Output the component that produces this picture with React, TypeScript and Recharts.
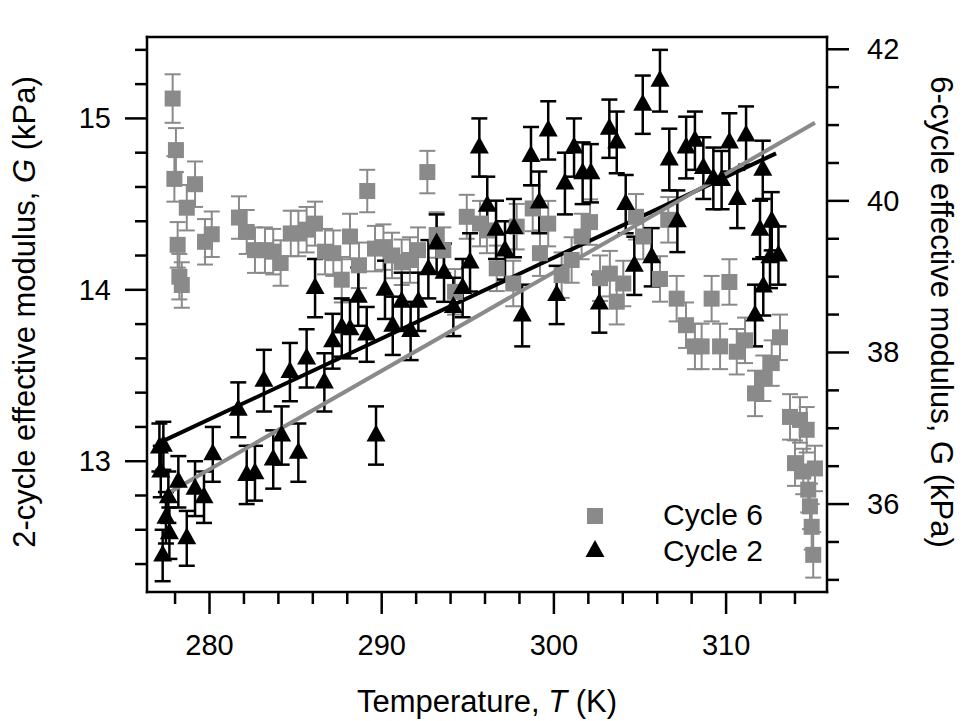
import React from "react";
import { ComposedChart, Scatter, Line, XAxis, YAxis, ErrorBar } from "recharts";

// Cycle 2 (left axis, black triangles)
const cycle2T = [
  277.09, 277.17, 277.28, 277.32, 277.47, 277.61, 277.67, 278.19, 278.68, 279.16,
  279.68, 280.19, 281.67, 282.16, 282.64, 283.16, 283.7, 284.19, 284.67, 285.16,
  285.64, 286.13, 286.67, 287.15, 287.68, 288.16, 288.64, 289.13, 289.67, 290.19,
  290.64, 291.16, 291.68, 292.13, 292.71, 293.19, 293.62, 294.16, 294.7, 295.13,
  295.67, 296.13, 296.64, 297.16, 297.68, 298.16, 298.67, 299.15, 299.67, 300.16,
  300.64, 301.17, 301.67, 302.15, 302.64, 303.22, 303.65, 304.17, 304.67, 305.16,
  305.68, 306.16, 306.7, 307.17, 307.68, 308.19, 308.68, 309.26, 309.74, 310.19,
  310.65, 311.16, 311.68, 311.97, 312.13, 312.16, 312.55, 312.65, 313.04,
];
const cycle2G = [
  13.08, 12.94, 12.45, 13.09, 12.67, 12.79, 12.58, 12.88, 12.55, 12.84,
  12.79, 13.04, 13.3, 12.92, 12.93, 13.47, 13.01, 13.15, 13.52, 13.05,
  13.6, 14.01, 13.46, 13.7, 13.78, 13.77, 13.96, 13.74, 13.15, 14.0,
  13.79, 13.93, 13.76, 13.93, 14.12, 14.27, 14.1, 13.9, 14.01, 14.16,
  14.83, 14.49, 14.35, 14.23, 14.36, 13.85, 14.78, 14.51, 14.93, 13.97,
  14.62, 14.83, 14.68, 14.68, 13.92, 14.94, 14.86, 14.5, 14.14, 15.08,
  14.19, 15.22, 14.76, 14.4, 14.83, 14.87, 14.71, 14.65, 14.64, 14.86,
  14.53, 14.9, 13.85, 14.35, 14.7, 14.02, 14.19, 14.4, 14.2,
];
const cycle2Err = [
  0.14, 0.15, 0.15, 0.14, 0.15, 0.15, 0.15, 0.15, 0.16, 0.16,
  0.15, 0.16, 0.16, 0.17, 0.16, 0.18, 0.17, 0.17, 0.17, 0.17,
  0.17, 0.17, 0.17, 0.16, 0.17, 0.17, 0.17, 0.16, 0.17, 0.17,
  0.17, 0.17, 0.17, 0.17, 0.17, 0.17, 0.17, 0.17, 0.17, 0.17,
  0.17, 0.17, 0.17, 0.17, 0.17, 0.18, 0.17, 0.18, 0.17, 0.17,
  0.18, 0.17, 0.18, 0.17, 0.17, 0.17, 0.18, 0.17, 0.17, 0.17,
  0.17, 0.18, 0.18, 0.18, 0.18, 0.17, 0.18, 0.18, 0.17, 0.17,
  0.17, 0.17, 0.18, 0.17, 0.17, 0.17, 0.18, 0.17, 0.17,
];

// Cycle 6 (right axis, gray squares)
const cycle6T = [
  277.86, 277.96, 278.05, 278.15, 278.25, 278.39, 278.68, 279.16, 279.74, 280.13,
  281.71, 282.16, 282.64, 283.22, 283.7, 284.13, 284.72, 285.16, 285.64, 286.13,
  286.71, 287.19, 287.68, 288.16, 288.68, 289.16, 289.61, 290.1, 290.6, 291.16,
  291.64, 292.11, 292.65, 293.19, 293.58, 294.26, 294.94, 295.71, 296.11, 296.68,
  297.64, 297.84, 298.77, 299.19, 299.67, 300.45, 301.03, 301.61, 302.1, 302.68,
  303.25, 303.65, 304.03, 304.77, 305.19, 306.16, 306.64, 307.13, 307.67, 308.19,
  308.58, 309.16, 309.65, 310.19, 310.62, 311.1, 311.68, 312.16, 312.65, 313.13,
  313.71, 314.0, 314.29, 314.48, 314.68, 314.77, 314.87, 314.97, 315.06, 315.16,
];
const cycle6G = [
  41.35, 40.29, 40.67, 39.42, 39.0, 38.89, 39.91, 40.22, 39.46, 39.56,
  39.78, 39.59, 39.35, 39.35, 39.33, 39.18, 39.57, 39.57, 39.62, 39.7,
  39.33, 39.31, 38.96, 39.53, 39.15, 40.13, 39.37, 39.39, 39.28, 39.19,
  39.22, 39.35, 40.38, 39.55, 39.35, 38.8, 39.79, 39.7, 39.61, 39.11,
  38.91, 39.66, 39.9, 39.31, 39.7, 39.02, 39.22, 39.53, 39.72, 38.98,
  39.04, 38.67, 38.91, 39.79, 39.53, 38.97, 39.75, 38.71, 38.36, 38.08,
  38.08, 38.71, 38.08, 38.93, 38.01, 38.16, 37.46, 37.66, 37.86, 38.2,
  37.15, 36.54, 37.11, 36.43, 36.98, 36.19, 35.97, 35.7, 35.33, 36.47,
];
const cycle6Err = [
  0.32, 0.3, 0.29, 0.3, 0.3, 0.3, 0.3, 0.3, 0.3, 0.3,
  0.28, 0.29, 0.3, 0.3, 0.3, 0.3, 0.3, 0.3, 0.3, 0.29,
  0.3, 0.3, 0.3, 0.3, 0.3, 0.28, 0.3, 0.3, 0.3, 0.3,
  0.3, 0.3, 0.28, 0.3, 0.3, 0.3, 0.29, 0.3, 0.3, 0.3,
  0.3, 0.3, 0.3, 0.3, 0.3, 0.3, 0.3, 0.3, 0.3, 0.3,
  0.3, 0.3, 0.3, 0.3, 0.3, 0.3, 0.3, 0.3, 0.3, 0.3,
  0.3, 0.3, 0.3, 0.3, 0.3, 0.3, 0.3, 0.3, 0.3, 0.3,
  0.3, 0.3, 0.3, 0.3, 0.3, 0.3, 0.3, 0.3, 0.3, 0.3,
];

// linear fits
const fit2T = [277.22, 312.9];
const fit2G = [13.114, 14.796];
const fit6T = [277.71, 315.16];
const fit6G = [36.16, 41.03];

const xTicks = [278, 280, 282, 284, 286, 288, 290, 292, 294, 296, 298, 300, 302, 304, 306, 308, 310, 312, 314];
const leftTicks = [12.4, 12.6, 12.8, 13, 13.2, 13.4, 13.6, 13.8, 14, 14.2, 14.4, 14.6, 14.8, 15, 15.2, 15.4];
const rightTicks = [35, 35.5, 36, 36.5, 37, 37.5, 38, 38.5, 39, 39.5, 40, 40.5, 41, 41.5, 42];

const FONT = "'Liberation Sans', Arial, sans-serif";
const GRAY = "#8a8a8a";
const MAJOR = 22;
const MINOR = 12;

const cycle2 = cycle2T.map((t, i) => ({ t, g: cycle2G[i], e: cycle2Err[i] }));
const cycle6 = cycle6T.map((t, i) => ({ t, g: cycle6G[i], e: cycle6Err[i] }));
const fit2 = fit2T.map((t, i) => ({ t, g: fit2G[i] }));
const fit6 = fit6T.map((t, i) => ({ t, g: fit6G[i] }));

const isInt = (v: number) => Math.abs(v - Math.round(v)) < 1e-6;

const BottomTick = ({ x, y, payload }: any) => {
  const major = payload.value % 10 === 0;
  return (
    <g>
      <line x1={x} y1={y} x2={x} y2={y + (major ? MAJOR : MINOR)} stroke="#000" strokeWidth={2.5} />
      {major && (
        <text x={x} y={y + 63} textAnchor="middle" fontSize={29} fontFamily={FONT} fill="#000">
          {payload.value}
        </text>
      )}
    </g>
  );
};

const TopTick = ({ x, y, payload }: any) => {
  const major = payload.value % 10 === 0;
  return <line x1={x} y1={y} x2={x} y2={y - (major ? MAJOR : MINOR)} stroke="#000" strokeWidth={2.5} />;
};

const LeftTick = ({ x, y, payload }: any) => {
  const major = isInt(payload.value);
  return (
    <g>
      <line x1={x - (major ? MAJOR : MINOR)} y1={y} x2={x} y2={y} stroke="#000" strokeWidth={2.5} />
      {major && (
        <text x={x - 36} y={y + 10} textAnchor="end" fontSize={29} fontFamily={FONT} fill="#000">
          {payload.value}
        </text>
      )}
    </g>
  );
};

const RightTick = ({ x, y, payload }: any) => {
  const major = isInt(payload.value) && Math.round(payload.value) % 2 === 0;
  return (
    <g>
      <line x1={x} y1={y} x2={x + (major ? MAJOR : MINOR)} y2={y} stroke="#000" strokeWidth={2.5} />
      {major && (
        <text x={x + 40} y={y + 10} textAnchor="start" fontSize={29} fontFamily={FONT} fill="#000">
          {payload.value}
        </text>
      )}
    </g>
  );
};

const Square = ({ cx, cy }: any) => <rect x={cx - 8} y={cy - 8} width={16} height={16} fill={GRAY} />;
const Triangle = ({ cx, cy }: any) => (
  <polygon points={`${cx},${cy - 11} ${cx - 9.5},${cy + 6} ${cx + 9.5},${cy + 6}`} fill="#000" />
);

const axisLine = { stroke: "#000", strokeWidth: 2.5, strokeLinecap: "square" as const };

export default function App() {
  return (
    <div style={{ position: "absolute", left: 0, top: 0, width: 963, height: 721, background: "#fff" }}>
      <ComposedChart width={963} height={721} margin={{ top: 0, right: 0, bottom: 0, left: 0 }}>
        <XAxis
          xAxisId="b" dataKey="t" type="number" domain={[276.37, 315.86]} allowDataOverflow
          ticks={xTicks} interval={0} tick={BottomTick} tickLine={false} tickSize={0} tickMargin={0}
          axisLine={axisLine} height={129}
          label={() => (
            <text x={487} y={712} textAnchor="middle" fontSize={31} fontFamily={FONT} fill="#000">
              Temperature, <tspan fontStyle="italic">T</tspan> (K)
            </text>
          )}
        />
        <XAxis
          xAxisId="top" orientation="top" type="number" domain={[276.37, 315.86]} allowDataOverflow
          ticks={xTicks} interval={0} tick={TopTick} tickLine={false} tickSize={0} tickMargin={0}
          axisLine={axisLine} height={37}
        />
        <YAxis
          yAxisId="L" dataKey="g" type="number" domain={[12.237, 15.475]} allowDataOverflow
          ticks={leftTicks} interval={0} tick={LeftTick} tickLine={false} tickSize={0} tickMargin={0}
          axisLine={axisLine} width={147}
          label={() => (
            <text transform="translate(35,312) rotate(-90)" textAnchor="middle" fontSize={31} fontFamily={FONT} fill="#000">
              2-cycle effective modulus, <tspan fontStyle="italic">G</tspan> (kPa)
            </text>
          )}
        />
        <YAxis
          yAxisId="R" orientation="right" dataKey="g" type="number" domain={[34.84, 42.162]} allowDataOverflow
          ticks={rightTicks} interval={0} tick={RightTick} tickLine={false} tickSize={0} tickMargin={0}
          axisLine={axisLine} width={136}
          label={() => (
            <text transform="translate(931,312) rotate(90)" textAnchor="middle" fontSize={31} fontFamily={FONT} fill="#000">
              6-cycle effective modulus, G (kPa)
            </text>
          )}
        />

        <Scatter name="Cycle 6" data={cycle6} dataKey="g" xAxisId="b" yAxisId="R" shape={Square} isAnimationActive={false}>
          <ErrorBar dataKey="e" direction="y" width={8} stroke={GRAY} strokeWidth={2} />
        </Scatter>
        <Scatter name="Cycle 2" data={cycle2} dataKey="g" xAxisId="b" yAxisId="L" shape={Triangle} isAnimationActive={false}>
          <ErrorBar dataKey="e" direction="y" width={8} stroke="#000" strokeWidth={2.5} />
        </Scatter>
        <Line data={fit2} dataKey="g" xAxisId="b" yAxisId="L" type="linear" stroke="#000" strokeWidth={4}
          dot={false} activeDot={false} isAnimationActive={false} />
        <Line data={fit6} dataKey="g" xAxisId="b" yAxisId="R" type="linear" stroke={GRAY} strokeWidth={4}
          dot={false} activeDot={false} isAnimationActive={false} />
      </ComposedChart>

      {/* legend */}
      <svg width={963} height={721} style={{ position: "absolute", left: 0, top: 0, pointerEvents: "none" }}>
        <rect x={587} y={508} width={16} height={16} fill={GRAY} />
        <text x={663} y={525} fontSize={30} fontFamily={FONT} fill="#000">Cycle 6</text>
        <polygon points="595,540 585.5,557 604.5,557" fill="#000" />
        <text x={663} y={561} fontSize={30} fontFamily={FONT} fill="#000">Cycle 2</text>
      </svg>
    </div>
  );
}
